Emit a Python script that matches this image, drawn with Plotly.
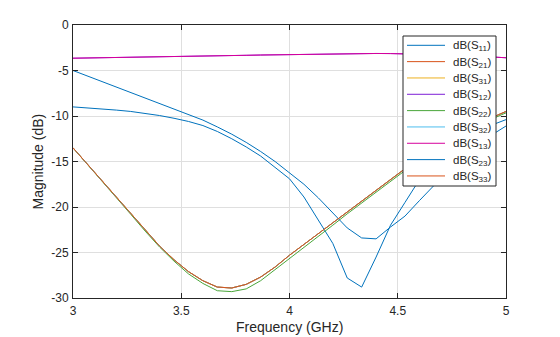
import plotly.graph_objects as go

freq = [3 + k * 2 / 30 for k in range(31)]

s_deep = [-9.0, -9.1, -9.2, -9.35, -9.5, -9.7, -9.95, -10.25, -10.6, -11.05,
          -11.7, -12.5, -13.4, -14.4, -15.6, -16.9, -18.9, -21.5, -24.0, -27.8,
          -28.8, -25.5, -22.0, -19.5, -17.0, -15.2, -13.8, -12.7, -11.8, -11.0, -10.4]
s_shallow = [-5.0, -5.6, -6.2, -6.8, -7.4, -8.0, -8.6, -9.2, -9.8, -10.45,
             -11.2, -12.0, -12.9, -13.9, -15.0, -16.2, -17.5, -19.0, -20.6, -22.3,
             -23.4, -23.5, -22.2, -21.0, -19.3, -17.6, -16.0, -14.6, -13.3, -12.1, -11.1]
s_orange = [-13.5, -15.3, -17.1, -18.9, -20.8, -22.6, -24.3, -25.8, -27.1, -28.1,
            -28.8, -28.9, -28.5, -27.7, -26.6, -25.3, -24.1, -22.9, -21.7, -20.5,
            -19.3, -18.1, -16.9, -15.8, -14.7, -13.7, -12.7, -11.8, -11.0, -10.2, -9.5]
s_green = [-13.5, -15.3, -17.1, -18.9, -20.8, -22.65, -24.4, -25.95, -27.35, -28.4,
           -29.2, -29.3, -29.0, -28.1, -26.9, -25.7, -24.5, -23.2, -22.0, -20.75,
           -19.55, -18.3, -17.1, -16.0, -14.9, -13.9, -12.9, -12.0, -11.15, -10.35, -9.65]
s_top = [-3.65, -3.63, -3.61, -3.59, -3.57, -3.54, -3.51, -3.48, -3.45, -3.42,
         -3.39, -3.36, -3.33, -3.30, -3.27, -3.24, -3.21, -3.18, -3.16, -3.14,
         -3.13, -3.13, -3.14, -3.16, -3.19, -3.23, -3.28, -3.34, -3.41, -3.50, -3.60]

names = ["11", "21", "31", "12", "22", "32", "13", "23", "33"]
series = [s_deep, s_orange, s_orange, s_top, s_green, s_orange, s_top, s_shallow, s_orange]
colors = ["#0072BD", "#D95319", "#EDB120", "#7E1FD6", "#4AA63A", "#4DBEEE",
          "#D6009C", "#0072BD", "#D95319"]

x_ticks = [3, 3.5, 4, 4.5, 5]
x_ticklabels = ["3", "3.5", "4", "4.5", "5"]
y_ticks = [0, -5, -10, -15, -20, -25, -30]
y_ticklabels = ["0", "-5", "-10", "-15", "-20", "-25", "-30"]

W, H = 560, 337
ML, MR, MT, MB = 73, 54, 25, 39
PW, PH = W - ML - MR, H - MT - MB


def px_x(p):
    return (p - ML) / PW


def px_y(p):
    return (H - MB - p) / PH


fig = go.Figure()
for n, s, c in zip(names, series, colors):
    fig.add_trace(go.Scatter(x=freq, y=s, mode="lines", name=f"dB(S{n})",
                             line=dict(color=c, width=1), showlegend=False))

font = "Liberation Sans, Arial, sans-serif"
ink = "#262626"

# legend box drawn as layout decoration
shapes = [dict(type="rect", xref="paper", yref="paper",
               x0=px_x(403), x1=px_x(496), y0=px_y(186), y1=px_y(36),
               fillcolor="white", line=dict(color=ink, width=1), layer="above")]
annotations = []
for i, (n, c) in enumerate(zip(names, colors)):
    yc = 45.3 + i * 16.33
    shapes.append(dict(type="line", xref="paper", yref="paper",
                       x0=px_x(407), x1=px_x(445), y0=px_y(yc), y1=px_y(yc),
                       line=dict(color=c, width=1), layer="above"))
    annotations.append(dict(xref="paper", yref="paper", x=px_x(451), y=px_y(yc + 1),
                            xanchor="left", yanchor="middle", showarrow=False,
                            text=f"dB(S<sub>{n}</sub>)",
                            font=dict(family=font, size=11.5, color=ink)))

# axis titles as annotations at MATLAB-like positions
annotations.append(dict(xref="paper", yref="paper", x=0.5, y=px_y(327),
                        xanchor="center", yanchor="middle", showarrow=False,
                        text="Frequency (GHz)", font=dict(family=font, size=14, color=ink)))
annotations.append(dict(xref="paper", yref="paper", x=px_x(37), y=0.5,
                        xanchor="center", yanchor="middle", showarrow=False, textangle=-90,
                        text="Magnitude (dB)", font=dict(family=font, size=14, color=ink)))

axis_common = dict(showline=True, linecolor=ink, linewidth=1, mirror="ticks",
                   ticks="inside", ticklen=5, tickcolor=ink, automargin=False,
                   showgrid=True, gridcolor="#DFDFDF", gridwidth=1, zeroline=False,
                   tickfont=dict(family=font, size=12, color=ink))
fig.update_layout(
    width=W, height=H,
    margin=dict(l=ML, r=MR, t=MT, b=MB, autoexpand=False),
    paper_bgcolor="white", plot_bgcolor="white",
    font=dict(family=font, color=ink),
    xaxis=dict(range=[3, 5], tickvals=x_ticks, ticktext=x_ticklabels,
               ticklabelstandoff=2, **axis_common),
    yaxis=dict(range=[-30, 0], tickvals=y_ticks, ticktext=y_ticklabels,
               ticklabelstandoff=1, **axis_common),
    shapes=shapes,
    annotations=annotations,
    showlegend=False,
)
fig.write_html("out.html")
